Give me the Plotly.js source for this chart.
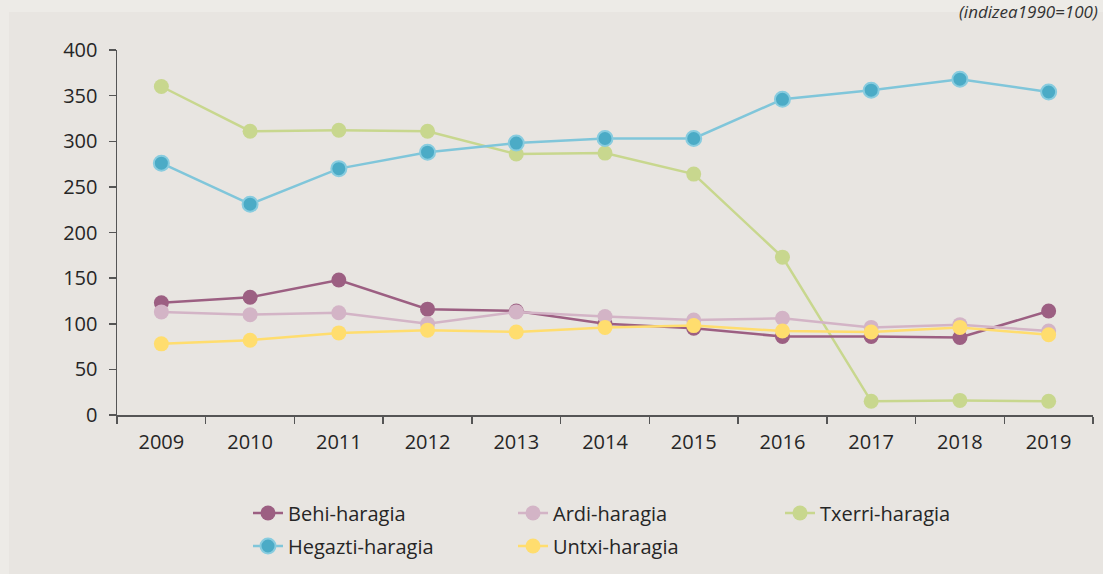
<!DOCTYPE html>
<html>
<head>
<meta charset="utf-8">
<script src="https://cdn.plot.ly/plotly-3.0.1.min.js"></script>
<style>
html,body{margin:0;padding:0;background:#EDEBE7;}
#chart{width:1103px;height:574px;}
</style>
</head>
<body>
<div id="chart"></div>
<script>
const years = ['2009','2010','2011','2012','2013','2014','2015','2016','2017','2018','2019'];
const behi    = [123, 129, 148, 116, 114, 100, 95, 86, 86, 85, 114];
const ardi    = [113, 110, 112, 100, 113, 108, 104, 106, 96, 99, 92];
const txerri  = [360, 311, 312, 311, 286, 287, 264, 173, 15, 16, 15];
const hegazti = [276, 231, 270, 288, 298, 303, 303, 346, 356, 368, 354];
const untxi   = [78, 82, 90, 93, 91, 96, 98, 92, 91, 96, 88];
const seriesNames = ['Behi-haragia','Ardi-haragia','Txerri-haragia','Hegazti-haragia','Untxi-haragia'];
const yTicks = [0,50,100,150,200,250,300,350,400];
const note = '(indizea1990=100)';

const W = 1103, H = 574;
const M = {l:117, r:10, t:50, b:159, autoexpand:false};
const pw = W - M.l - M.r, ph = H - M.t - M.b;
const px2x = p => (p - M.l) / pw;
const py2y = p => (H - M.b - p) / ph;

const FF = '"Open Sans", Lato, sans-serif';
const TXT = '#262626';

// legend slots (text start x, row centre y) in pixels
const slots = [[288,513],[553,513],[820,513],[288,546],[553,546]];
const legendIds = ['legend','legend2','legend3','legend4','legend5'];

function tr(i, y, lineColor, markerColor, outline){
  return {
    type:'scatter', mode:'lines+markers', name:seriesNames[i], x:years, y:y,
    legend:legendIds[i],
    line:{color:lineColor, width:2.5},
    marker:{size:15, color:markerColor, line:{color:outline||markerColor, width:outline?2:0}},
    cliponaxis:false
  };
}
const tBehi = tr(0, behi, '#9C5F82', '#9C5F82');
const tArdi = tr(1, ardi, '#D3B4C6', '#D3B4C6');
const tTx   = tr(2, txerri, '#C8D78E', '#C8D78E');
const tHeg  = tr(3, hegazti, '#80C6DA', '#4BABC6', '#88CCDF');
const tUn   = tr(4, untxi, '#FFDD6E', '#FFDD6E');
const traces = [tTx, tHeg, tBehi, tArdi, tUn];

const layout = {
  width:W, height:H,
  margin:M,
  paper_bgcolor:'#EDEBE7',
  plot_bgcolor:'rgba(0,0,0,0)',
  font:{family:FF, color:TXT, size:20, weight:400},
  showlegend:true,
  xaxis:{
    type:'category', range:[-0.5,10.5], tickson:'boundaries',
    showline:true, linecolor:'#555', linewidth:1.5,
    ticks:'outside', ticklen:7, tickcolor:'#555', tickwidth:1.5,
    ticklabelstandoff:8,
    showgrid:false, zeroline:false, fixedrange:true,
    tickfont:{family:FF, size:20, color:TXT, weight:400}
  },
  yaxis:{
    range:[0,400], tickvals:yTicks, ticktext:yTicks.map(String),
    showline:true, linecolor:'#555', linewidth:1.5,
    ticks:'outside', ticklen:7, tickcolor:'#555', tickwidth:1.5,
    ticklabelstandoff:7,
    showgrid:false, zeroline:false, fixedrange:true,
    tickfont:{family:FF, size:20, color:TXT, weight:400}
  },
  shapes:[{
    type:'rect', xref:'paper', yref:'paper', layer:'below',
    x0:px2x(9), x1:px2x(W+5), y0:py2y(H+5), y1:py2y(12),
    fillcolor:'#E8E5E1', line:{width:0}
  }],
  annotations:[{
    text:'<i>'+note+'</i>', xref:'paper', yref:'paper',
    x:px2x(1100), xanchor:'right', y:py2y(25), yanchor:'bottom',
    showarrow:false, font:{family:FF, size:17, color:'#333', weight:400}
  }]
};
legendIds.forEach((id, i) => {
  layout[id] = {
    x:px2x(slots[i][0] - 40), xanchor:'left',
    y:py2y(slots[i][1]), yanchor:'middle',
    font:{family:FF, size:20, color:TXT, weight:400},
    bgcolor:'rgba(0,0,0,0)', borderwidth:0
  };
});

Plotly.newPlot('chart', traces, layout, {displayModeBar:false, staticPlot:true});
</script>
</body>
</html>
